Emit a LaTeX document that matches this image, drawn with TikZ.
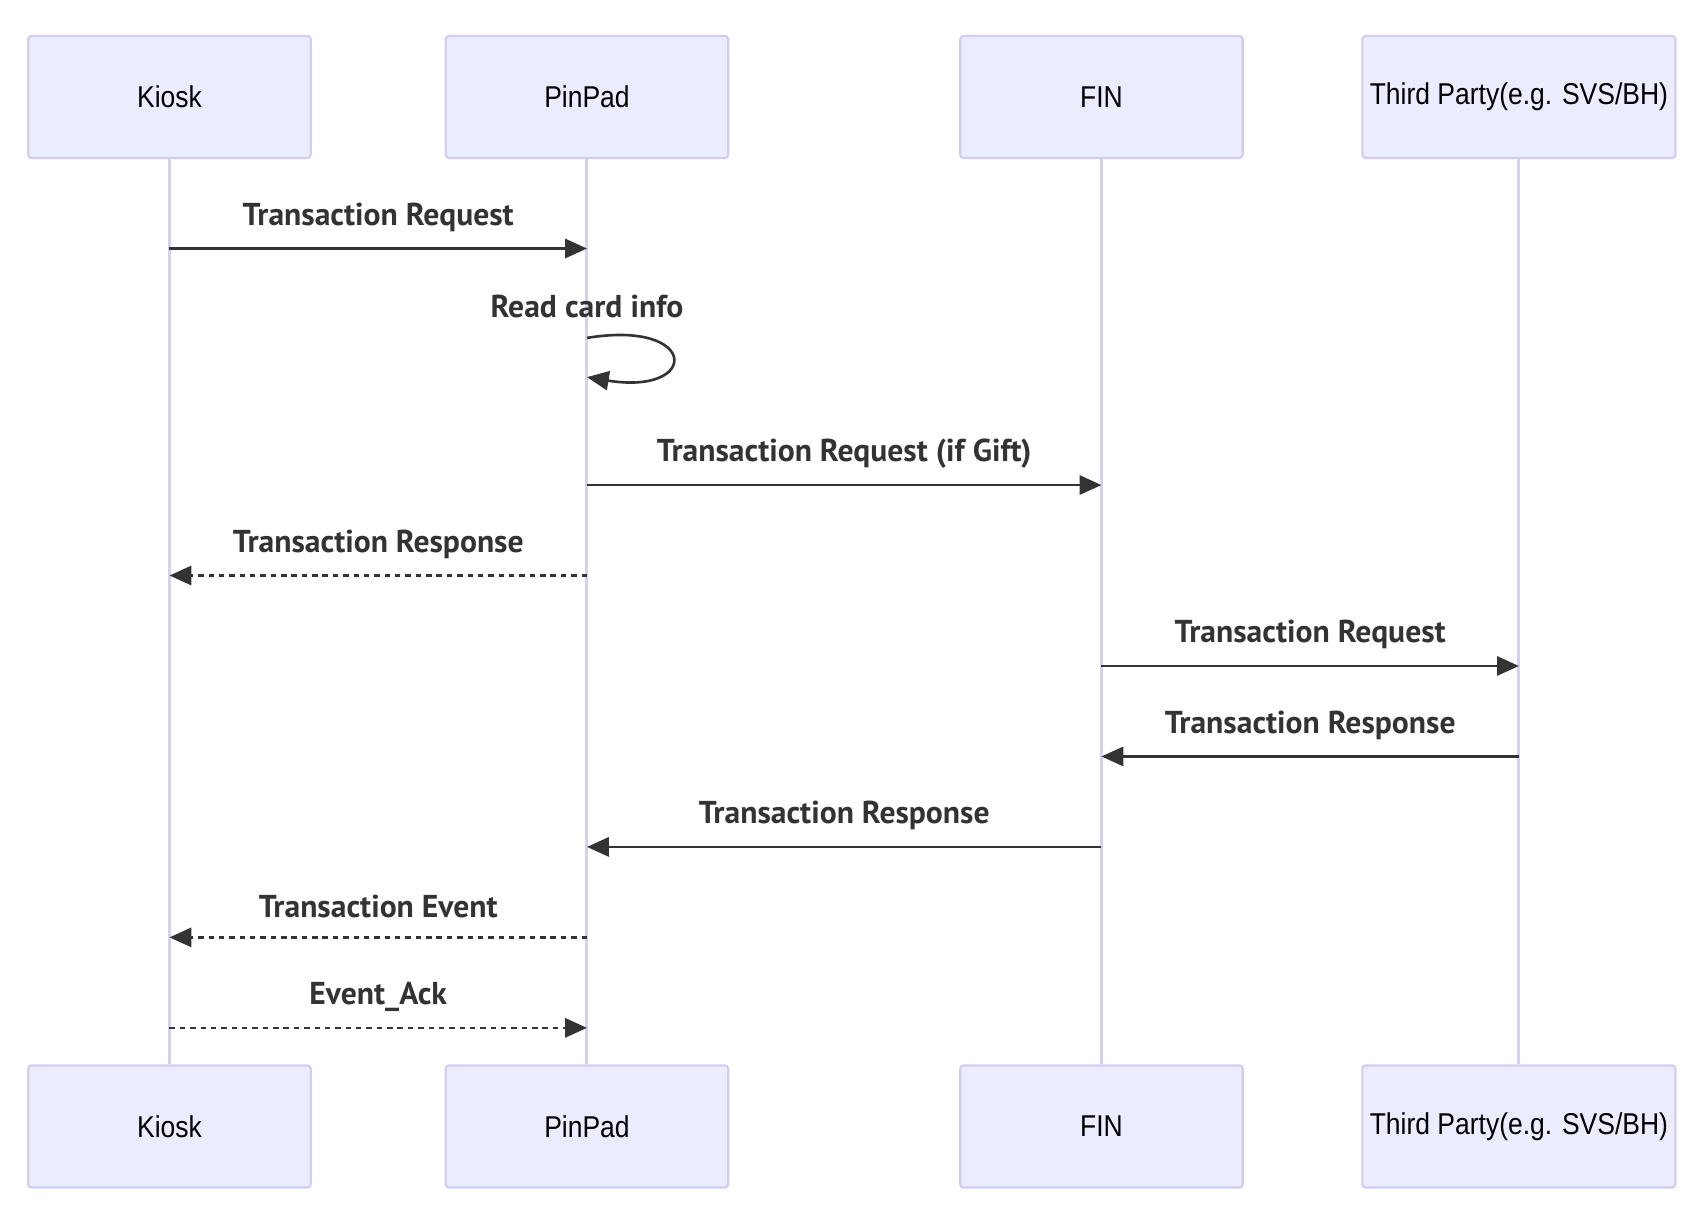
\documentclass[tikz,border=0pt]{standalone}
\usepackage{fontspec}
\setmainfont{Liberation Sans}
\newfontfamily\actfont[FakeStretch=0.88]{Liberation Sans}
\newfontfamily\msgfont{PT Sans}
\usetikzlibrary{arrows.meta}
\definecolor{actfill}{HTML}{ECECFF}
\definecolor{actborder}{HTML}{D2CDF0}
\definecolor{lifeline}{HTML}{D5CFF2}
\definecolor{msgcol}{HTML}{333333}
\tikzset{
  actor/.style={draw=actborder, fill=actfill, line width=0.2mm, rounded corners=0.3mm,
    minimum height=11.2mm, inner sep=0pt, font=\actfont\fontsize{7.85pt}{9pt}\selectfont},
  life/.style={draw=lifeline, line width=0.28mm},
  msg/.style={draw=msgcol, line width=0.24mm, -{Triangle[length=2mm,width=1.75mm]}},
  reply/.style={msg, dash pattern=on 0.5mm off 0.45mm},
  lbl/.style={text=msgcol, font=\msgfont\bfseries\fontsize{8.25pt}{9pt}\selectfont, yshift=2.85mm}
}
\begin{document}
\begin{tikzpicture}[x=0.01cm, y=-0.01cm]
  \useasboundingbox (0,0) rectangle (1567,1121);
  \node[actor, minimum width=25.9mm] (kt) at (155.5,89) {Kiosk};
  \node[actor, minimum width=25.9mm] (pt) at (538.5,89) {PinPad};
  \node[actor, minimum width=25.9mm] (ft) at (1010.5,89) {FIN};
  \node[actor, minimum width=28.7mm] (tt) at (1393.5,89) {Third Party(e.g. SVS/BH)};
  \node[actor, minimum width=25.9mm] (kb) at (155.5,1033.5) {Kiosk};
  \node[actor, minimum width=25.9mm] (pb) at (538.5,1033.5) {PinPad};
  \node[actor, minimum width=25.9mm] (fb) at (1010.5,1033.5) {FIN};
  \node[actor, minimum width=28.7mm] (tb) at (1393.5,1033.5) {Third Party(e.g. SVS/BH)};
  \foreach \a/\b in {kt/kb, pt/pb, ft/fb, tt/tb}
    \draw[life] (\a) -- (\b);

  \draw[msg] (kt |- 0,228) to node[lbl]{Transaction Request} (pt |- 0,228);
  \node[lbl] (rc) at (538.5,310) {Read card info};
  \coordinate (ls) at (538.5,310);
  \coordinate (le) at (538.5,346);
  \draw[msg] (ls) .. controls (642,293) and (642,363) .. (le);
  \draw[msg] (pt |- 0,445) to node[lbl]{Transaction Request (if Gift)} (ft |- 0,445);
  \draw[reply] (pt |- 0,528) to node[lbl]{Transaction Response} (kt |- 0,528);
  \draw[msg] (ft |- 0,611) to node[lbl]{Transaction Request} (tt |- 0,611);
  \draw[msg] (tt |- 0,694) to node[lbl]{Transaction Response} (ft |- 0,694);
  \draw[msg] (ft |- 0,777) to node[lbl]{Transaction Response} (pt |- 0,777);
  \draw[reply] (pt |- 0,860) to node[lbl]{Transaction Event} (kt |- 0,860);
  \draw[reply] (kt |- 0,943) to node[lbl]{Event\_Ack} (pt |- 0,943);
\end{tikzpicture}
\end{document}
